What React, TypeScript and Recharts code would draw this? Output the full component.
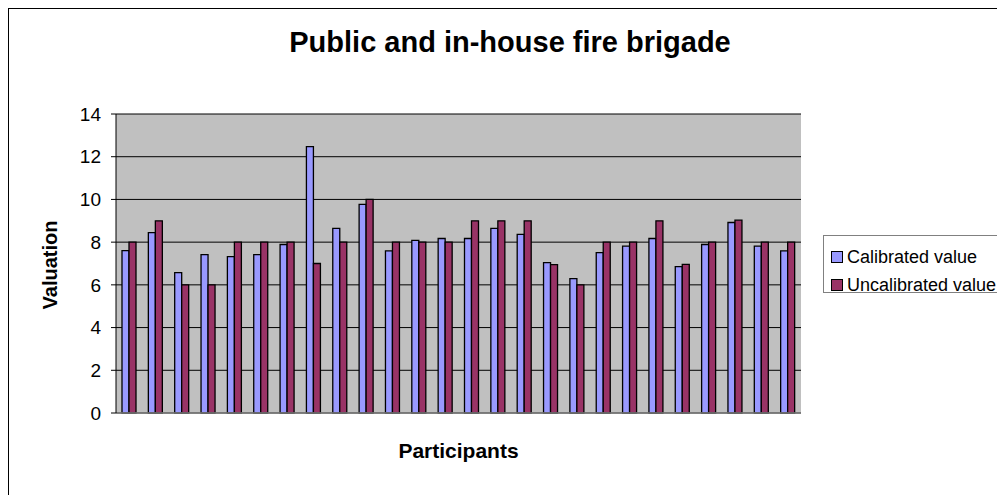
import React from 'react';
import { BarChart, Bar, XAxis, YAxis, CartesianGrid } from 'recharts';

const participants = ['1', '2', '3', '4', '5', '6', '7', '8', '9', '10', '11', '12', '13', '14', '15', '16', '17', '18', '19', '20', '21', '22', '23', '24', '25', '26'];
const calibrated = [7.6, 8.45, 6.57, 7.42, 7.32, 7.42, 7.89, 12.47, 8.64, 9.77, 7.59, 8.08, 8.17, 8.17, 8.64, 8.36, 7.04, 6.29, 7.51, 7.81, 8.17, 6.85, 7.89, 8.92, 7.81, 7.59];
const uncalibrated = [8, 9, 6, 6, 8, 8, 8, 7, 8, 10, 8, 8, 8, 9, 9, 9, 6.95, 6, 8, 8, 9, 6.96, 8, 9.03, 8, 8];
const yTicks = [0, 2, 4, 6, 8, 10, 12, 14];

const SERIES = [
  { key: 'calibrated', name: 'Calibrated value', color: '#9999FF' },
  { key: 'uncalibrated', name: 'Uncalibrated value', color: '#993366' },
];

const data = participants.map((p, i) => ({
  participant: p,
  calibrated: calibrated[i],
  uncalibrated: uncalibrated[i],
}));

const FONT = '"Liberation Sans", Arial, sans-serif';

export default function App() {
  return (
    <div style={{ position: 'relative', width: 997, height: 487, overflow: 'hidden', fontFamily: FONT }}>
      <div style={{ position: 'absolute', left: 0, top: 0, width: 1200, height: 700, border: '1px solid #000' }} />
      <BarChart
        width={997}
        height={487}
        data={data}
        margin={{ top: 106, right: 204, bottom: 52, left: 0 }}
        barGap={0}
        barSize={7}
      >
        <CartesianGrid vertical={false} stroke="#000" fill="#C0C0C0" fillOpacity={1} />
        <XAxis
          dataKey="participant"
          tick={false}
          tickLine={false}
          height={30}
          axisLine={{ stroke: '#808080', strokeWidth: 1.5 }}
        />
        <XAxis xAxisId="top" orientation="top" dataKey="participant" tick={false} tickLine={false} height={0} axisLine={{ stroke: '#808080', strokeWidth: 1.5 }} />
        <YAxis
          domain={[0, 14]}
          ticks={yTicks}
          interval={0}
          width={108}
          tickSize={5}
          tickMargin={10}
          axisLine={{ stroke: '#000' }}
          tickLine={{ stroke: '#000' }}
          tick={{ fill: '#000', fontSize: 19, fontFamily: FONT }}
        />
        <YAxis yAxisId="right" orientation="right" domain={[0, 14]} tick={false} tickLine={false} width={0} axisLine={{ stroke: '#808080', strokeWidth: 1.5 }} />
        {SERIES.map((s) => (
          <Bar
            key={s.key}
            dataKey={s.key}
            name={s.name}
            fill={s.color}
            stroke="#000"
            strokeWidth={1.3}
            isAnimationActive={false}
          />
        ))}
      </BarChart>

      <div style={{ position: 'absolute', left: 0, top: 20, width: 1004, textAlign: 'center', fontSize: 29, lineHeight: '29px', fontWeight: 'bold', color: '#000' }}>
        Public and in-house fire brigade
      </div>

      <div style={{ position: 'absolute', left: -58, top: 245, width: 200, height: 24, lineHeight: '24px', textAlign: 'center', fontSize: 20, fontWeight: 'bold', transform: 'rotate(-90deg)' }}>
        Valuation
      </div>

      <div style={{ position: 'absolute', left: 108, top: 432, width: 685, textAlign: 'center', fontSize: 21, lineHeight: '21px', fontWeight: 'bold' }}>
        Participants
      </div>

      <div style={{ position: 'absolute', left: 815, top: 227, width: 181, height: 58, boxSizing: 'border-box', border: '1px solid #808080', background: '#fff', padding: '7px 0 0 7px' }}>
        {SERIES.map((s) => (
          <div key={s.key} style={{ display: 'flex', alignItems: 'center', height: 28, fontSize: 18, whiteSpace: 'nowrap' }}>
            <span style={{ display: 'inline-block', width: 10, height: 10, background: s.color, border: '1.5px solid #000', marginRight: 4 }} />
            <span>{s.name}</span>
          </div>
        ))}
      </div>
    </div>
  );
}
